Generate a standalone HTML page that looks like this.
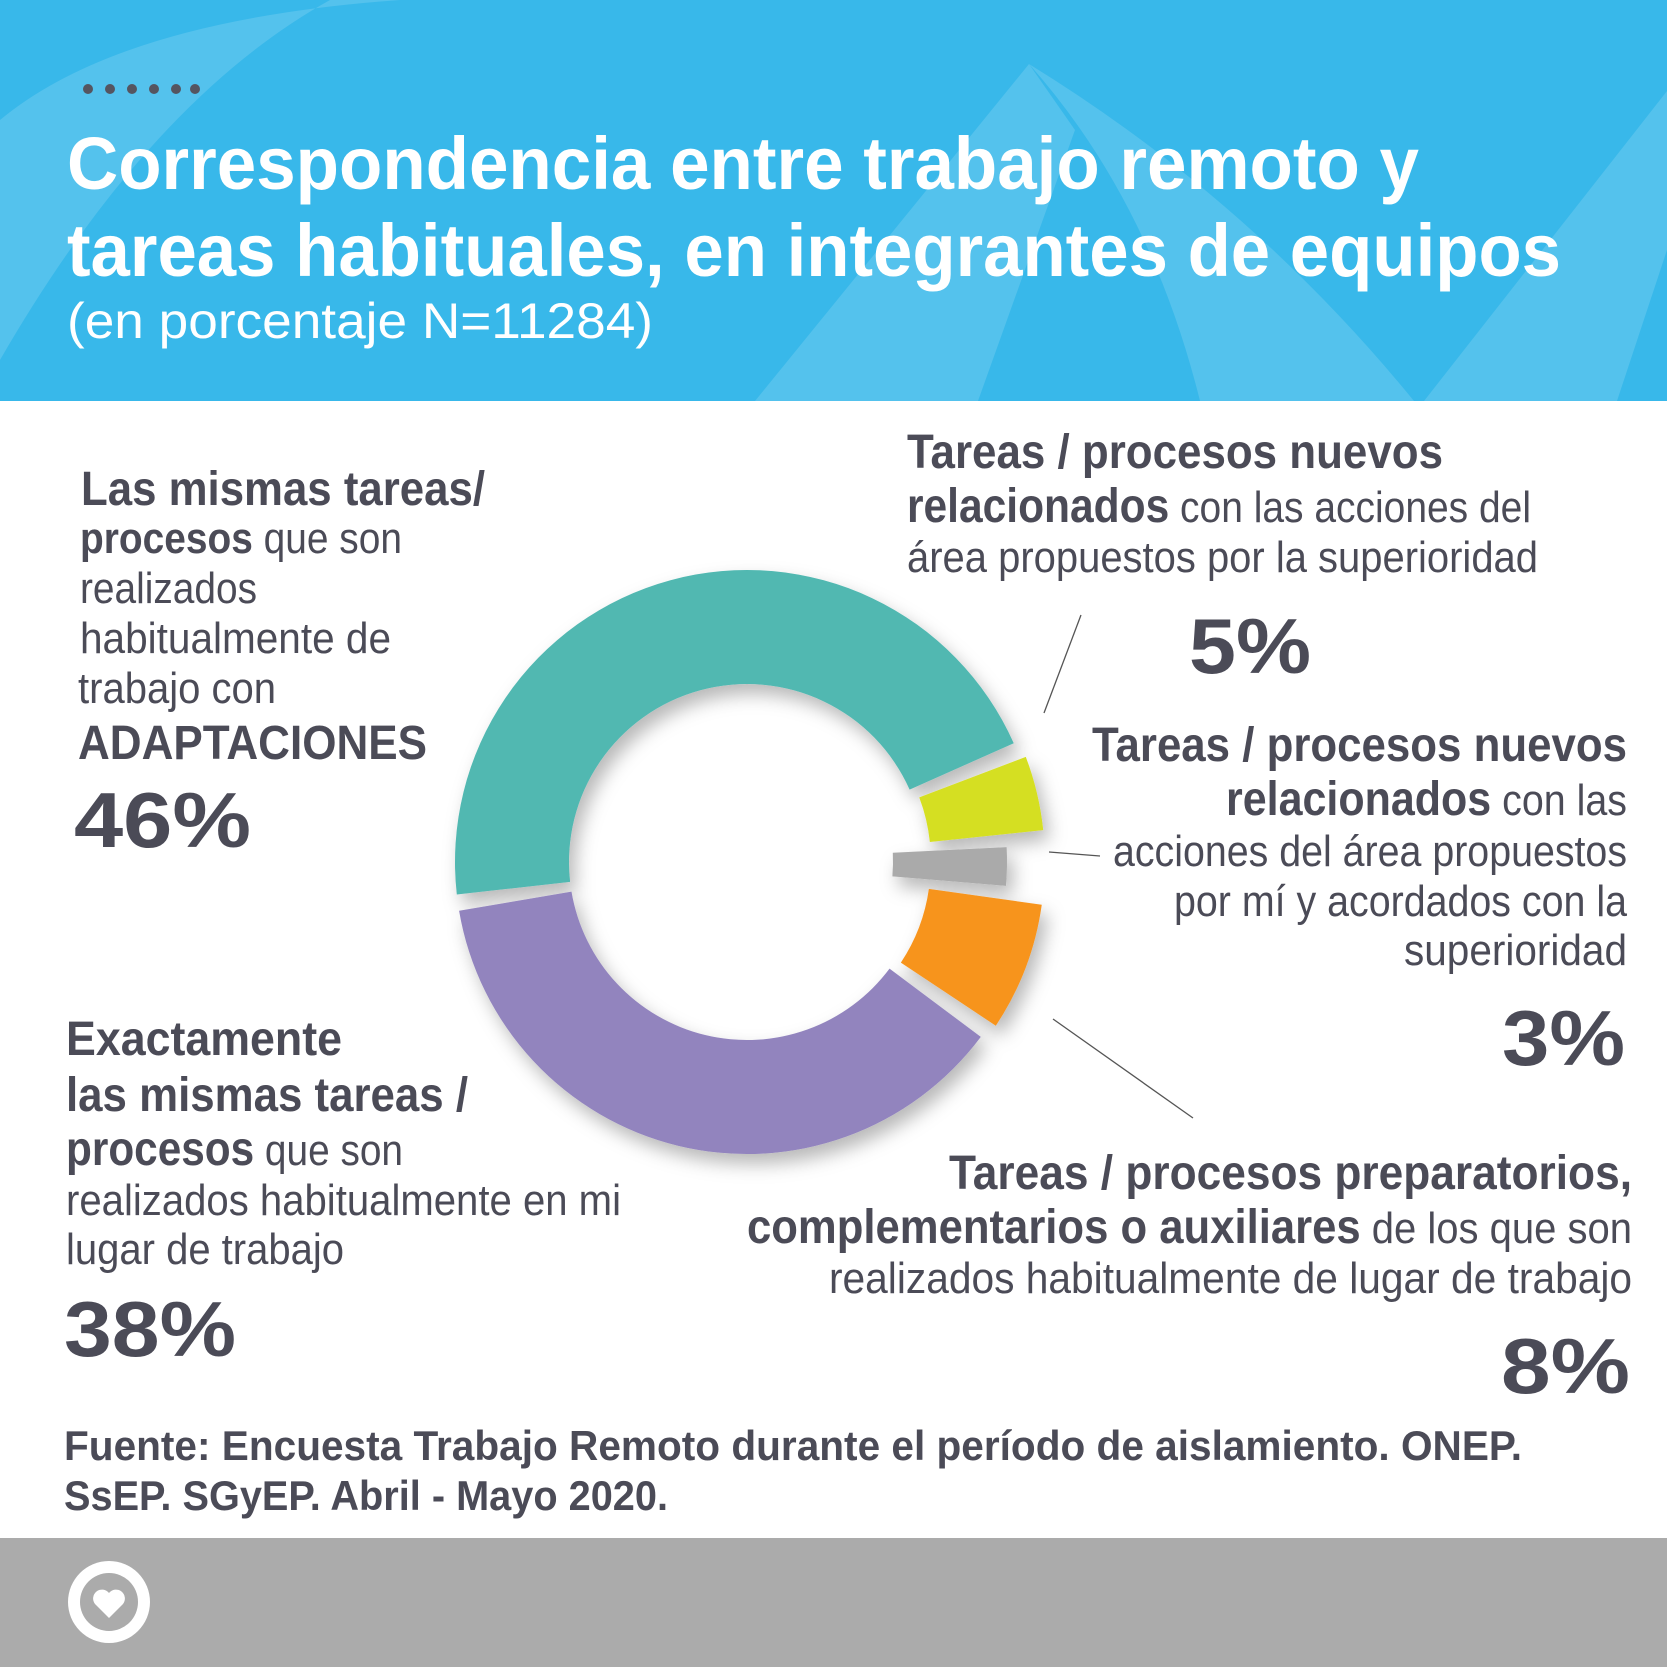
<!DOCTYPE html>
<html><head><meta charset="utf-8">
<style>
html,body{margin:0;padding:0;background:#fff;}
svg{display:block;}
text{font-family:"Liberation Sans",sans-serif;fill:#4b4b57;}
.b{font-weight:bold;}
.w{fill:#fff;}
</style></head>
<body>
<svg id="chart" width="1667" height="1667" viewBox="0 0 1667 1667" xmlns="http://www.w3.org/2000/svg">
<defs>
<filter id="sh" x="-20%" y="-20%" width="140%" height="140%">
<feDropShadow dx="6" dy="10" stdDeviation="9" flood-color="#000" flood-opacity="0.28"/>
</filter>
</defs>
<g>
<rect x="0" y="0" width="1667" height="401" fill="#38b8ea"/>
<path d="M0 120 Q120 20 400 0 L330 0 Q150 100 0 360 Z" fill="#ffffff" fill-opacity="0.14"/>
<path d="M1029 64 L755 401 L978 401 L1075 130 Z" fill="#ffffff" fill-opacity="0.14"/>
<path d="M1029 64 Q1150 200 1200 401 L1414 401 Q1250 200 1029 64 Z" fill="#ffffff" fill-opacity="0.14"/>
<path d="M1667 91 L1424 401 L1617 401 L1667 250 Z" fill="#ffffff" fill-opacity="0.14"/>
</g>
<g fill="#555560">
<circle cx="88" cy="89" r="5"/><circle cx="110" cy="89" r="5"/><circle cx="132" cy="89" r="5"/><circle cx="154" cy="89" r="5"/><circle cx="176" cy="89" r="5"/><circle cx="195" cy="89" r="5"/>
</g>
<text class="w b" x="67" y="189" font-size="74" textLength="1352" lengthAdjust="spacingAndGlyphs">Correspondencia entre trabajo remoto y</text>
<text class="w b" x="67" y="276" font-size="74" textLength="1494" lengthAdjust="spacingAndGlyphs">tareas habituales, en integrantes de equipos</text>
<text class="w" x="67" y="338" font-size="50" textLength="586" lengthAdjust="spacingAndGlyphs">(en porcentaje N=11284)</text>

<g id="donut" filter="url(#sh)"></g>

<g stroke="#555" stroke-width="1.3">
<line x1="1081" y1="615" x2="1044" y2="713"/>
<line x1="1049" y1="852" x2="1100" y2="856"/>
<line x1="1053" y1="1019" x2="1193" y2="1118"/>
</g>

<g>
<text class="b" x="81" y="505" font-size="48" textLength="404" lengthAdjust="spacingAndGlyphs">Las mismas tareas/</text>
<text x="80" y="553" font-size="44" textLength="322" lengthAdjust="spacingAndGlyphs"><tspan class="b">procesos</tspan> que son</text>
<text x="80" y="603" font-size="44" textLength="177" lengthAdjust="spacingAndGlyphs">realizados</text>
<text x="80" y="653" font-size="44" textLength="311" lengthAdjust="spacingAndGlyphs">habitualmente de</text>
<text x="78" y="703" font-size="44" textLength="198" lengthAdjust="spacingAndGlyphs">trabajo con</text>
<text class="b" x="78" y="759" font-size="48" textLength="349" lengthAdjust="spacingAndGlyphs">ADAPTACIONES</text>
<text class="b" x="74" y="847" font-size="78" textLength="177" lengthAdjust="spacingAndGlyphs">46%</text>
</g>
<g>
<text class="b" x="907" y="468" font-size="48" textLength="536" lengthAdjust="spacingAndGlyphs">Tareas / procesos nuevos</text>
<text x="907" y="522" font-size="44" textLength="624" lengthAdjust="spacingAndGlyphs"><tspan class="b" font-size="48">relacionados</tspan> con las acciones del</text>
<text x="907" y="572" font-size="44" textLength="631" lengthAdjust="spacingAndGlyphs">área propuestos por la superioridad</text>
<text class="b" x="1189" y="673" font-size="78" textLength="122" lengthAdjust="spacingAndGlyphs">5%</text>
</g>
<g>
<text class="b" x="1092" y="761" font-size="48" textLength="535" lengthAdjust="spacingAndGlyphs">Tareas / procesos nuevos</text>
<text x="1226" y="815" font-size="44" textLength="401" lengthAdjust="spacingAndGlyphs"><tspan class="b" font-size="48">relacionados</tspan> con las</text>
<text x="1113" y="866" font-size="44" textLength="514" lengthAdjust="spacingAndGlyphs">acciones del área propuestos</text>
<text x="1174" y="916" font-size="44" textLength="453" lengthAdjust="spacingAndGlyphs">por mí y acordados con la</text>
<text x="1404" y="965" font-size="44" textLength="223" lengthAdjust="spacingAndGlyphs">superioridad</text>
<text class="b" x="1502" y="1065" font-size="78" textLength="123" lengthAdjust="spacingAndGlyphs">3%</text>
</g>
<g>
<text class="b" x="949" y="1189" font-size="48" textLength="683" lengthAdjust="spacingAndGlyphs">Tareas / procesos preparatorios,</text>
<text x="747" y="1243" font-size="44" textLength="885" lengthAdjust="spacingAndGlyphs"><tspan class="b" font-size="48">complementarios o auxiliares</tspan> de los que son</text>
<text x="829" y="1293" font-size="44" textLength="803" lengthAdjust="spacingAndGlyphs">realizados habitualmente de  lugar de trabajo</text>
<text class="b" x="1501" y="1393" font-size="78" textLength="129" lengthAdjust="spacingAndGlyphs">8%</text>
</g>
<g>
<text class="b" x="66" y="1055" font-size="48" textLength="276" lengthAdjust="spacingAndGlyphs">Exactamente</text>
<text class="b" x="66" y="1111" font-size="48" textLength="402" lengthAdjust="spacingAndGlyphs">las mismas tareas /</text>
<text x="66" y="1165" font-size="44" textLength="337" lengthAdjust="spacingAndGlyphs"><tspan class="b" font-size="48">procesos</tspan> que son</text>
<text x="66" y="1215" font-size="44" textLength="555" lengthAdjust="spacingAndGlyphs">realizados habitualmente en mi</text>
<text x="66" y="1264" font-size="44" textLength="278" lengthAdjust="spacingAndGlyphs">lugar de trabajo</text>
<text class="b" x="64" y="1356" font-size="78" textLength="172" lengthAdjust="spacingAndGlyphs">38%</text>
</g>
<g>
<text class="b" x="64" y="1460" font-size="42" textLength="1458" lengthAdjust="spacingAndGlyphs">Fuente: Encuesta Trabajo Remoto durante el período de aislamiento. ONEP.</text>
<text class="b" x="64" y="1510" font-size="42" textLength="604" lengthAdjust="spacingAndGlyphs">SsEP. SGyEP. Abril - Mayo 2020.</text>
</g>
<g>
<rect x="0" y="1538" width="1667" height="129" fill="#ababab"/>
<circle cx="109" cy="1602" r="41" fill="#fff"/>
<circle cx="109" cy="1602" r="29" fill="#ababab"/>
<path d="M109 1618 L95 1604 A8 8 0 0 1 109 1593 A8 8 0 0 1 123 1604 Z" fill="#fff"/>
</g>
</svg>
<script>
const categories = ["Mismas tareas con adaptaciones","Nuevos propuestos por superioridad","Nuevos acordados con superioridad","Preparatorios / auxiliares","Exactamente las mismas tareas"];
const values = [46, 5, 3, 8, 38];
const colors = ["#51b8b1","#d5df22","#aaaaaa","#f7941d","#9284be"];
const names = ["slice-adaptaciones","slice-nuevos-superioridad","slice-nuevos-acordados","slice-preparatorios","slice-exactamente"];
const cx = 747, cy = 862, R = 292, r = 178, startDeg = 172, gapDeg = 1.6;
const radialShift = [0, 6, -32, 6, 0];
const total = values.reduce((a,b)=>a+b,0);
function angle(v){ return v / total * 360; }
function pt(rad, deg, ox, oy){ const a = deg*Math.PI/180; return [ox + rad*Math.cos(a), oy + rad*Math.sin(a)]; }
const g = document.getElementById('donut');
let acc = startDeg;
values.forEach((v,i)=>{
  const a0 = acc + gapDeg, a1 = acc + angle(v) - gapDeg;
  const mid = (a0+a1)/2*Math.PI/180;
  const ox = cx + radialShift[i]*Math.cos(mid), oy = cy + radialShift[i]*Math.sin(mid);
  const large = (a1-a0) > 180 ? 1 : 0;
  const p1 = pt(R,a0,ox,oy), p2 = pt(R,a1,ox,oy), p3 = pt(r,a1,ox,oy), p4 = pt(r,a0,ox,oy);
  const d = `M${p1[0]} ${p1[1]} A${R} ${R} 0 ${large} 1 ${p2[0]} ${p2[1]} L${p3[0]} ${p3[1]} A${r} ${r} 0 ${large} 0 ${p4[0]} ${p4[1]} Z`;
  const el = document.createElementNS('http://www.w3.org/2000/svg','path');
  el.setAttribute('d', d);
  el.setAttribute('fill', colors[i]);
  
  
  g.appendChild(el);
  acc += angle(v);
});
</script>
</body></html>
